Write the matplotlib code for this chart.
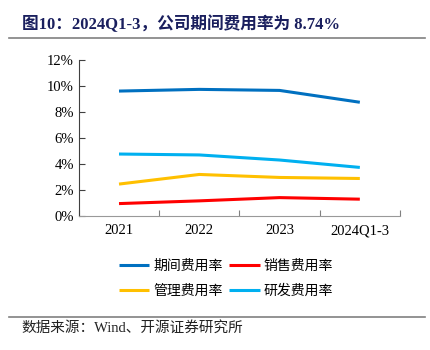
import matplotlib
matplotlib.use('Agg')
import matplotlib.pyplot as plt
from matplotlib.ticker import FuncFormatter
from matplotlib.lines import Line2D

plt.rcParams['font.family'] = ['Liberation Serif', 'Noto Sans CJK SC']

# data (percent)
periods = ['2021', '2022', '2023', '2024Q1-3']
period_rate = [9.60, 9.73, 9.65, 8.74]
sales_rate = [0.95, 1.16, 1.41, 1.29]
admin_rate = [2.45, 3.19, 2.96, 2.88]
rd_rate = [4.76, 4.69, 4.30, 3.73]
series_names = ['期间费用率', '销售费用率', '管理费用率', '研发费用率']
series_colors = ['#0070C0', '#FF0000', '#FFC000', '#00B0F0']

fig = plt.figure(figsize=(4.31, 3.5), dpi=100)

# title and rules
fig.text(0.052, 0.905, '图10：2024Q1-3，公司期间费用率为 8.74%', fontsize=12,
         fontweight='bold', color='#1A1F5E', ha='left', va='bottom')
fig.add_artist(Line2D([0.02, 0.985], [0.892, 0.892], color='#808080', lw=1.2))
fig.add_artist(Line2D([0.02, 0.985], [0.095, 0.095], color='#808080', lw=1.2))
fig.text(0.05, 0.062, '数据来源：Wind、开源证券研究所', fontsize=10.5, color='#222222',
         ha='left', va='center')

ax = fig.add_axes([0.183, 0.383, 0.745, 0.446])
x = range(len(periods))
lines = []
for vals, name, col in zip([period_rate, sales_rate, admin_rate, rd_rate],
                           series_names, series_colors):
    ln, = ax.plot(x, vals, color=col, lw=2.2, label=name, solid_capstyle='butt')
    lines.append(ln)

ax.set_xlim(-0.5, len(periods) - 0.5)
ax.set_ylim(0, 12)
ax.set_yticks(range(0, 13, 2))
ax.yaxis.set_major_formatter(FuncFormatter(lambda v, p: '%d%%' % v))
ax.set_xticks([i - 0.5 for i in range(len(periods) + 1)])
ax.set_xticklabels([])
ax.set_xticks(list(x), minor=True)
ax.set_xticklabels(periods, minor=True)
ax.tick_params(axis='x', which='minor', length=0, labelsize=10.5, pad=6)
ax.tick_params(axis='x', which='major', direction='in', length=4, color='#808080')
ax.tick_params(axis='y', direction='in', length=4, labelsize=10.5, color='#404040')
for s in ['top', 'right']:
    ax.spines[s].set_visible(False)
ax.spines['left'].set_color('#404040')
ax.spines['bottom'].set_color('#999999')

# legend rows: 期间 / 销售, then 管理 / 研发 (matplotlib fills column-first)
order = [0, 2, 1, 3]
ax.legend([lines[i] for i in order], [series_names[i] for i in order],
          loc='upper center', bbox_to_anchor=(0.458, -0.2), ncol=2, frameon=False,
          fontsize=10, handlelength=2.2, columnspacing=0.45, handletextpad=0.3,
          labelspacing=0.85)

fig.savefig('out.png', dpi=100)
